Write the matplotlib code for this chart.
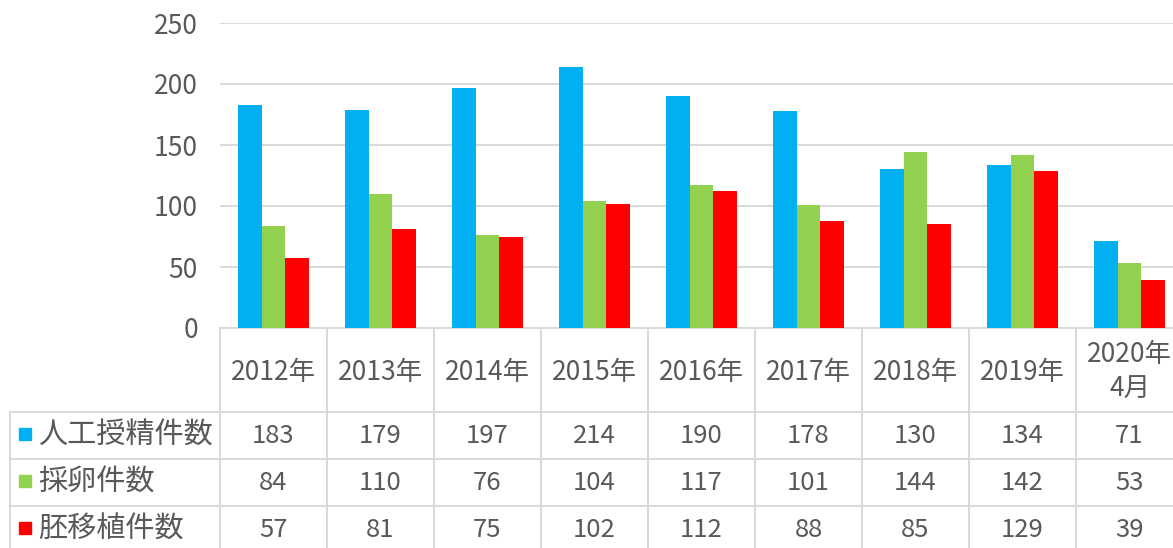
import matplotlib
matplotlib.use('Agg')
import matplotlib.pyplot as plt
import matplotlib.transforms as mtransforms

plt.rcParams['font.family'] = ['Noto Sans CJK JP', 'DejaVu Sans']

categories = ['2012年', '2013年', '2014年', '2015年', '2016年', '2017年', '2018年', '2019年', '2020年\n4月']
series_names = ['人工授精件数', '採卵件数', '胚移植件数']
ai_counts = [183, 179, 197, 214, 190, 178, 130, 134, 71]
egg_counts = [84, 110, 76, 104, 117, 101, 144, 142, 53]
et_counts = [57, 81, 75, 102, 112, 88, 85, 129, 39]
colors = ['#00B0F0', '#92D050', '#FF0000']

text_color = '#595959'
grid_color = '#D9D9D9'

W, H = 1173, 548
fig = plt.figure(figsize=(W / 100, H / 100), dpi=100)
# plot area: x from 220px (runs off the right edge), y from 23px to 328px
ax = fig.add_axes([220 / W, 220 / H, 963 / W, 305 / H])

series = [ai_counts, egg_counts, et_counts]
n = len(categories)
xs = list(range(n))
bw = 0.222
for k, vals in enumerate(series):
    ax.bar([x + (k - 1) * bw for x in xs], vals, width=bw, color=colors[k], zorder=3)

ax.set_xlim(-0.5, n - 0.5)
ax.set_ylim(0, 250)
ax.set_yticks([0, 50, 100, 150, 200, 250])
ax.yaxis.grid(True, color=grid_color, linewidth=1.4, zorder=0)
ax.tick_params(axis='y', length=0, pad=16, labelsize=19, labelcolor=text_color)
ax.set_xticks([])
for s in ['top', 'right', 'left']:
    ax.spines[s].set_visible(False)
ax.spines['bottom'].set_color(grid_color)
ax.spines['bottom'].set_linewidth(1.4)

# data table below the axis, x in data units, y in axes fraction
trans = mtransforms.blended_transform_factory(ax.transData, ax.transAxes)


def yfrac(py):
    return (328 - py) / 305


def xdata(px):
    return -0.5 + (px - 220) / 107


lw = 1.4
bottom = yfrac(560)
row_lines = [412, 459, 506]
for i in range(n + 1):
    ax.plot([i - 0.5, i - 0.5], [0, bottom], transform=trans, color=grid_color,
            lw=lw, clip_on=False)
ax.plot([xdata(10), xdata(10)], [yfrac(412), bottom], transform=trans,
        color=grid_color, lw=lw, clip_on=False)
for py in row_lines:
    ax.plot([xdata(10), n - 0.5], [yfrac(py), yfrac(py)], transform=trans,
            color=grid_color, lw=lw, clip_on=False)

for i, c in enumerate(categories):
    ax.text(i, yfrac(372), c, transform=trans, ha='center', va='center',
            fontsize=19, color=text_color, linespacing=1.35, clip_on=False)

row_centers = [436, 483, 530]
for k, vals in enumerate(series):
    yc = yfrac(row_centers[k])
    ax.plot([xdata(25)], [yc + 0.006], transform=trans, marker='s', markersize=8,
            color=colors[k], linestyle='none', clip_on=False)
    ax.text(xdata(38), yc, series_names[k], transform=trans, ha='left', va='center',
            fontsize=21, color=text_color, clip_on=False)
    for i, v in enumerate(vals):
        ax.text(i, yc, str(v), transform=trans, ha='center', va='center',
                fontsize=18.5, color=text_color, clip_on=False)

fig.savefig('out.png', dpi=100)
